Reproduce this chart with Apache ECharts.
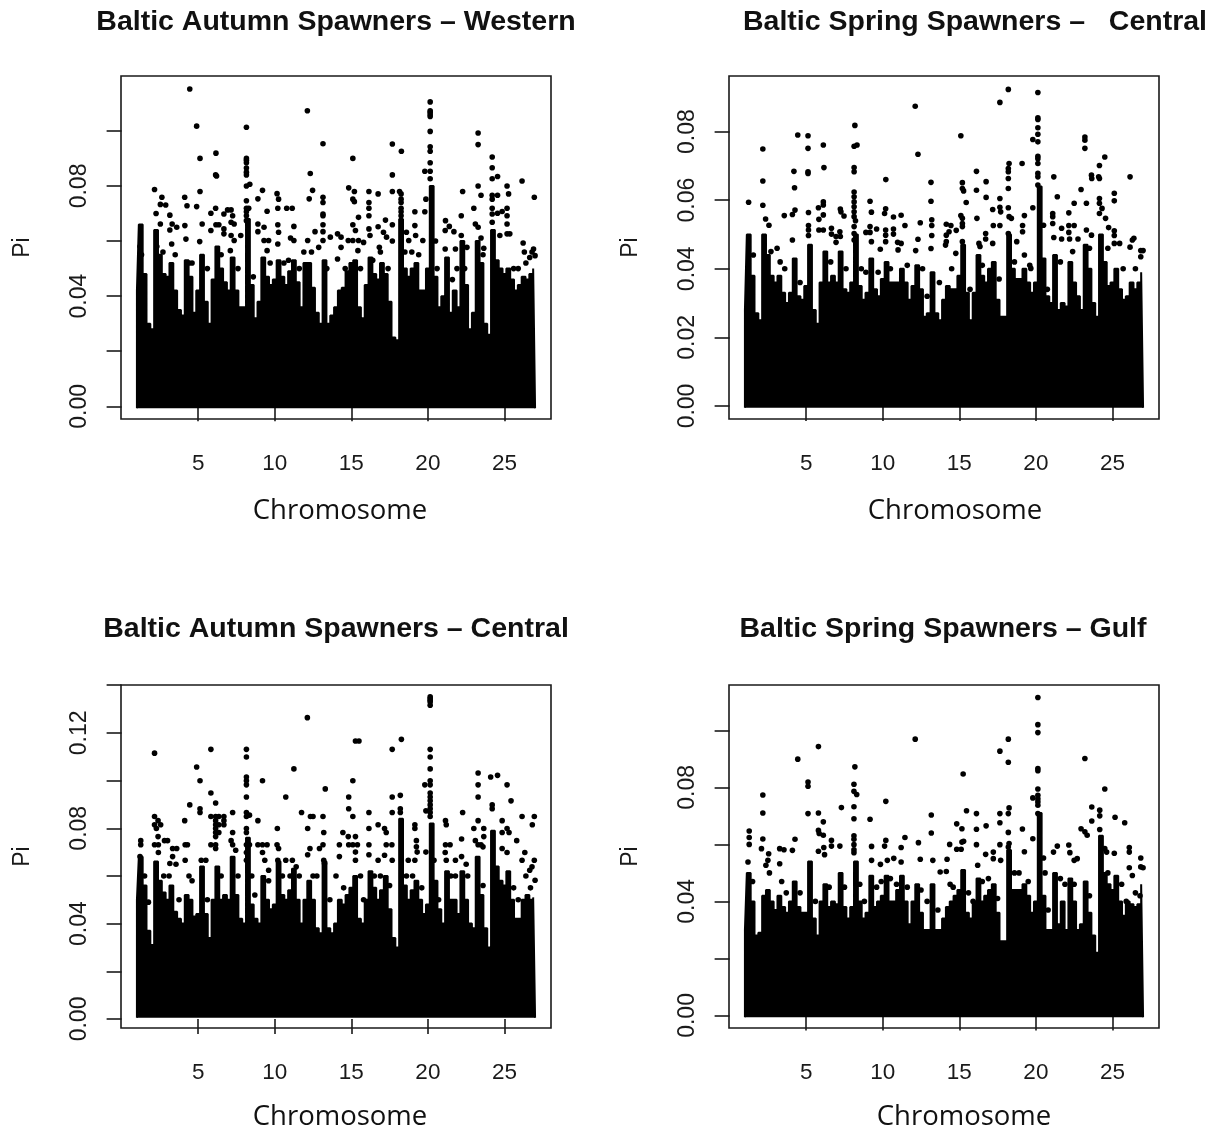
<!DOCTYPE html>
<html><head><meta charset="utf-8">
<style>html,body{margin:0;padding:0;background:#fff}#c{width:1221px;height:1131px}</style>
<script src="https://cdn.jsdelivr.net/npm/echarts@6/dist/echarts.min.js"></script>
</head><body><div id="c"></div>
<script>
const xTicks=[5,10,15,20,25];
const panelTitles=["Baltic Autumn Spawners \u2013 Western","Baltic Spring Spawners \u2013\u00a0\u00a0 Central","Baltic Autumn Spawners \u2013 Central","Baltic Spring Spawners \u2013 Gulf"];
const yTicksA=[0,.02,.04,.06,.08,.10];
const yLabelsA=[0,.04,.08];
const yTicksB=[0,.02,.04,.06,.08];
const yLabelsB=[0,.02,.04,.06,.08];
const yTicksC=[0,.02,.04,.06,.08,.10,.12,.14];
const yLabelsC=[0,.04,.08,.12];
const yTicksD=[0,.02,.04,.06,.08,.10];
const yLabelsD=[0,.04,.08];

// chromosome positions at which the top of the solid mass of points was read
const massX=[1,1.25,1.5,1.75,2,2.25,2.5,2.75,3,3.25,3.5,3.75,4,4.25,4.5,4.75,5,5.25,5.5,5.75,6,6.25,6.5,6.75,7,7.25,7.5,7.75,8,8.25,8.5,8.75,9,9.25,9.5,9.75,10,10.25,10.5,10.75,11,11.25,11.5,11.75,12,12.25,12.5,12.75,13,13.25,13.5,13.75,14,14.25,14.5,14.75,15,15.25,15.5,15.75,16,16.25,16.5,16.75,17,17.25,17.5,17.75,18,18.25,18.5,18.75,19,19.25,19.5,19.75,20,20.25,20.5,20.75,21,21.25,21.5,21.75,22,22.25,22.5,22.75,23,23.25,23.5,23.75,24,24.25,24.5,24.75,25,25.25,25.5,25.75,26,26.25,26.5,26.75,27];
const massA=[.042,.066,.048,.030,.028,.064,.055,.048,.047,.052,.042,.035,.033,.053,.047,.034,.042,.055,.038,.030,.046,.058,.050,.045,.042,.054,.042,.036,.036,.068,.044,.032,.038,.054,.047,.044,.046,.053,.047,.044,.049,.053,.045,.036,.052,.052,.043,.034,.030,.053,.030,.033,.036,.042,.043,.049,.052,.053,.036,.032,.044,.054,.048,.046,.052,.048,.038,.025,.024,.068,.050,.047,.050,.052,.042,.042,.050,.080,.047,.036,.040,.054,.034,.042,.036,.060,.044,.028,.034,.060,.052,.030,.026,.064,.053,.050,.048,.050,.046,.042,.044,.047,.046,.048,.050];
const massB=[.028,.050,.038,.027,.025,.050,.044,.038,.036,.038,.033,.030,.033,.043,.032,.031,.035,.047,.028,.024,.036,.045,.036,.038,.036,.045,.034,.033,.036,.050,.035,.031,.033,.043,.034,.032,.037,.042,.036,.036,.036,.040,.036,.031,.035,.041,.034,.026,.027,.039,.027,.025,.031,.035,.034,.034,.038,.047,.033,.025,.033,.044,.038,.036,.040,.042,.031,.026,.026,.050,.040,.037,.037,.040,.036,.033,.036,.064,.043,.032,.030,.044,.028,.030,.029,.042,.036,.032,.028,.047,.040,.030,.026,.050,.042,.035,.036,.040,.034,.031,.032,.036,.034,.036,.039];
const massC=[.050,.068,.056,.037,.031,.066,.058,.053,.050,.056,.045,.042,.040,.052,.050,.043,.044,.064,.044,.034,.050,.064,.050,.052,.050,.068,.052,.042,.040,.076,.048,.042,.040,.060,.050,.046,.048,.066,.052,.050,.054,.063,.050,.040,.050,.058,.050,.038,.036,.066,.038,.036,.040,.050,.048,.052,.055,.060,.042,.040,.050,.062,.055,.050,.054,.060,.046,.034,.030,.084,.056,.050,.054,.058,.050,.044,.048,.082,.058,.046,.040,.062,.050,.050,.044,.062,.050,.040,.038,.068,.052,.038,.030,.079,.064,.058,.056,.062,.050,.042,.042,.050,.052,.050,.051];
const massD=[.030,.050,.040,.028,.029,.042,.044,.040,.037,.042,.038,.036,.040,.047,.038,.036,.036,.054,.034,.028,.040,.046,.038,.040,.039,.050,.038,.034,.038,.054,.040,.034,.036,.049,.038,.040,.042,.049,.040,.040,.044,.049,.040,.032,.040,.046,.036,.030,.030,.046,.030,.030,.034,.038,.040,.042,.044,.051,.036,.034,.040,.048,.040,.042,.044,.046,.036,.026,.026,.058,.044,.044,.044,.046,.042,.036,.040,.071,.042,.030,.030,.050,.032,.040,.030,.048,.040,.030,.032,.047,.036,.028,.022,.063,.050,.046,.044,.049,.040,.035,.040,.039,.038,.039,.046];

// individually visible points above the mass
const dotsA=[[4.45,.1152],[4.9,.1017],[5.12,.09],[5.12,.078],[4.9,.0725],[4.27,.0728],[4.12,.0759],[4.13,.0656],[4.2,.0607],[2.15,.0787],[2.63,.0759],[2.53,.0733],[2.88,.0731],[2.25,.07],[3.15,.0694],[2.53,.0662],[3.3,.0662],[3.6,.065],[3.15,.064],[3.27,.0589],[5.26,.0662],[5.1,.0598],[6.16,.0919],[6.14,.084],[6.2,.0836],[6.14,.0719],[5.83,.0701],[6.16,.0659],[6.35,.0659],[5.83,.0638],[6.68,.0698],[6.92,.0713],[7.15,.0713],[7.25,.0692],[7.15,.0668],[7.35,.0662],[6.68,.0644],[6.68,.0626],[7.15,.062],[7.78,.062],[7.35,.0602],[7.1,.0565],[8.15,.1013],[8.15,.09],[8.15,.0893],[8.15,.0884],[8.15,.0865],[8.15,.085],[8.15,.084],[8.15,.08],[8.15,.0746],[8.15,.0719],[8.15,.0706],[8.15,.0692],[8.15,.0674],[8.37,.0806],[8.3,.0719],[9.2,.0784],[8.9,.0753],[9.5,.0708],[8.9,.0662],[9.3,.065],[8.9,.0634],[9.3,.0602],[9.6,.0602],[9.5,.0565],[10.15,.0772],[10.25,.0752],[10.2,.0719],[10.78,.0719],[11.14,.0719],[10.2,.0659],[10.25,.0632],[10.2,.0589],[11.25,.0653],[11.03,.0611],[11.25,.0602],[12.13,.1073],[12.32,.0845],[12.47,.0784],[12.25,.0753],[12.15,.0602],[12.63,.0634],[13.15,.0953],[13.15,.0759],[13.15,.074],[13.15,.0698],[13.15,.0692],[13.15,.0659],[13.15,.0634],[13.15,.0602],[12.87,.0577],[13.63,.0614],[14.1,.0626],[14.33,.0614],[14.33,.0577],[14.1,.0535],[15.1,.09],[14.83,.0793],[15.2,.078],[15.1,.0752],[15.2,.0743],[15.47,.0686],[15.1,.0659],[15.27,.0638],[14.8,.0602],[15.1,.0602],[15.47,.0602],[15.8,.0595],[15.43,.0565],[16.15,.078],[16.15,.074],[16.15,.0719],[16.15,.0692],[16.15,.0644],[16.22,.062],[16.75,.0771],[17.23,.0676],[16.75,.0652],[17.1,.0632],[17.3,.0614],[16.83,.0577],[17.68,.0952],[17.68,.084],[17.68,.078],[17.68,.0659],[17.68,.06],[18.27,.0926],[18.15,.078],[18.25,.0771],[18.25,.0752],[18.25,.074],[18.25,.0719],[18.25,.0706],[18.25,.0692],[18.6,.0632],[18.75,.0602],[19.2,.062],[19.15,.0706],[19.15,.0656],[19.8,.0706],[19.87,.0752],[19.8,.0853],[19.67,.0602],[20.15,.1105],[20.15,.1073],[20.15,.1067],[20.15,.1059],[20.15,.1052],[20.15,.0998],[20.15,.0942],[20.15,.0926],[20.15,.0884],[20.15,.0853],[20.15,.0826],[20.5,.06],[21.15,.0674],[21.4,.0653],[21.7,.0634],[21.13,.0638],[21.13,.0571],[21.8,.0571],[22.18,.0692],[22.27,.078],[22.18,.062],[22.55,.0577],[23,.0719],[23.28,.0992],[23.28,.095],[23.28,.08],[23.47,.0766],[23.1,.0662],[23.28,.065],[23.47,.0611],[23.65,.0574],[24.2,.0905],[24.2,.0866],[24.2,.0826],[24.55,.0834],[24.2,.0766],[24.55,.0766],[24.2,.0752],[24.2,.0719],[24.2,.0698],[24.55,.0701],[24.85,.0707],[24.2,.0668],[24.7,.062],[25.17,.08],[25.27,.0771],[25.17,.0719],[25.17,.0692],[25.17,.0662],[25.17,.0626],[25.35,.0626],[26.15,.0818],[26.22,.0593],[26.95,.0759],[26.9,.0571],[26.3,.056],[27,.0547],[26.65,.054],[1.2,.058],[1.3,.055],[2.3,.058],[2.7,.056],[3.5,.055],[4.4,.052],[4.6,.052],[5.6,.05],[6.5,.055],[7.6,.05],[8.6,.047],[9.7,.052],[10.6,.052],[10.9,.053],[11.6,.05],[11.9,.056],[12.4,.056],[13.4,.05],[14.6,.05],[15.6,.05],[16.4,.053],[16.9,.056],[17.4,.05],[18.5,.056],[18.95,.056],[19.4,.055],[20.6,.05],[21.6,.046],[21.9,.05],[22.4,.05],[23.6,.055],[25.6,.05],[25.9,.05],[26.4,.052],[26.8,.056]];
const dotsB=[[18.2,.0923],[17.65,.0885],[20.13,.0914],[12.12,.0874],[8.18,.0818],[4.45,.079],[5.12,.0788],[5.12,.0751],[6.12,.0761],[2.17,.0749],[2.17,.0656],[2.17,.0585],[2.35,.0545],[2.57,.0527],[1.24,.0594],[4.2,.0684],[4.24,.0636],[4.27,.0571],[4.1,.0558],[3.57,.0555],[4.1,.0484],[5.12,.0683],[5.12,.0678],[5.15,.0564],[5.15,.0526],[5.15,.0513],[5.15,.0497],[6.16,.0695],[6.12,.0595],[6.12,.0586],[5.8,.0578],[5.83,.0544],[6.12,.0557],[5.83,.0513],[6.12,.0513],[6.65,.0518],[6.65,.0501],[7.23,.0574],[7.27,.0566],[7.47,.0554],[7.2,.0508],[6.95,.0494],[7.23,.0494],[6.95,.0477],[8.13,.0757],[8.32,.0761],[8.13,.0695],[8.13,.0683],[8.13,.0624],[8.13,.061],[8.13,.0595],[8.13,.0581],[8.13,.0566],[8.13,.0552],[8.22,.054],[8.13,.0523],[8.13,.0503],[8.13,.0484],[9.17,.0597],[9.26,.0565],[9.17,.0523],[8.9,.0506],[9.17,.0506],[9.6,.0516],[9.26,.0479],[10.2,.066],[10.19,.0575],[10.12,.0561],[10.19,.0513],[10.19,.0498],[10.19,.0479],[9.84,.0457],[10.7,.0551],[11.2,.0556],[10.7,.0516],[10.7,.0501],[11.45,.0526],[10.97,.0477],[11.2,.0474],[11,.0455],[12.3,.0734],[12.45,.0534],[12.3,.0486],[12.15,.0453],[13.15,.0652],[13.15,.0597],[13.2,.0543],[13.2,.0526],[13.2,.0497],[13.15,.0459],[14.15,.053],[14.45,.0526],[14.33,.0508],[14.15,.0498],[14.8,.0512],[14.15,.0479],[14.1,.0469],[14.77,.0445],[15.1,.0788],[15.2,.0651],[15.2,.0634],[15.28,.0627],[15.45,.0593],[15.1,.0555],[15.2,.0547],[15.2,.0532],[15.2,.0523],[15.2,.0479],[16.12,.0684],[16.12,.0629],[16.15,.0547],[16.28,.0474],[16.75,.0654],[16.75,.0608],[16.72,.0503],[16.72,.0487],[16.35,.0465],[17.18,.0573],[17.22,.0526],[17.18,.0474],[17.65,.0605],[17.65,.0579],[17.7,.0566],[17.65,.0526],[18.25,.0707],[18.2,.0692],[18.2,.0683],[18.2,.0663],[18.2,.0634],[18.2,.0578],[18.25,.0552],[18.4,.0547],[18.2,.0503],[18.75,.0479],[19.1,.0707],[19.25,.0555],[19.13,.0526],[19.13,.0508],[19.25,.044],[19.8,.0777],[19.8,.0578],[19.67,.0401],[20.13,.084],[20.13,.0835],[20.13,.0811],[20.13,.0792],[20.13,.077],[20.13,.0728],[20.13,.0721],[20.13,.0707],[20.13,.0678],[20.13,.0668],[20.13,.0644],[20.5,.0527],[21.17,.0668],[21.4,.061],[21.1,.0561],[21.1,.0552],[21.1,.0532],[21.17,.0491],[21.68,.0518],[21.68,.0487],[22.15,.0563],[22.5,.0591],[22.15,.0526],[22.5,.0526],[22.15,.0506],[22.2,.0487],[22.75,.0487],[22.95,.0631],[23.3,.0591],[23.2,.0784],[23.2,.0775],[23.2,.0751],[23.3,.0513],[23.63,.0498],[23.63,.0673],[23.65,.0663],[24.15,.0701],[24.1,.0668],[24.15,.0663],[24.15,.0605],[24.15,.0591],[24.15,.0561],[24.32,.0576],[24.5,.0726],[24.55,.0547],[24.75,.052],[25.12,.0511],[25.12,.062],[25.12,.0598],[25.12,.0497],[25.12,.0474],[25.47,.0474],[26.15,.0668],[26.4,.0489],[26.15,.0463],[26.3,.0484],[26.85,.0453],[27,.0453],[26.85,.0435],[1.55,.044],[2.7,.045],[3.1,.046],[3.3,.042],[3.6,.04],[4.6,.036],[6.6,.042],[7.6,.04],[8.6,.04],[8.9,.039],[9.7,.039],[10.5,.04],[11.6,.041],[12.6,.04],[12.9,.032],[13.7,.036],[14.5,.04],[15.7,.034],[16.5,.041],[17.6,.037],[18.6,.042],[19.6,.041],[20.75,.034],[21.6,.042],[22.4,.045],[23.5,.046],[24.7,.046],[25.7,.04],[26.5,.04]];
const dotsC=[[2.15,.1115],[2.15,.0849],[2.38,.0832],[2.55,.0815],[2.15,.0815],[2.27,.0799],[2.38,.0765],[2.15,.0731],[2.4,.0731],[2.8,.0748],[3,.0748],[3.33,.0715],[3.6,.0715],[2.4,.0698],[3.33,.0681],[3.15,.0652],[3.55,.0649],[1.25,.0748],[1.25,.0731],[1.2,.0681],[4.12,.0832],[4.45,.0898],[4.15,.0731],[4.3,.0731],[4.15,.0666],[4.9,.1057],[5.12,.0999],[5.12,.0882],[5.12,.0866],[5.2,.0666],[5.5,.0666],[5.83,.1131],[5.83,.0948],[6.14,.0906],[5.83,.0849],[6.14,.0849],[6.14,.0832],[6.14,.0815],[6.14,.0799],[6.14,.0782],[6.14,.0765],[6.14,.0731],[6.35,.0849],[6.35,.0815],[6.35,.0782],[6.68,.0849],[6.68,.0832],[6.68,.0815],[5.83,.0731],[6.14,.0715],[7.25,.0866],[7.25,.0782],[7.15,.0748],[7.25,.0731],[7.45,.0708],[8.15,.1131],[8.15,.1099],[8.15,.1015],[8.15,.0999],[8.15,.0982],[8.15,.0931],[8.15,.0866],[8.15,.0849],[8.35,.0855],[8.15,.0799],[8.15,.0782],[8.15,.0731],[8.35,.0731],[8.15,.0698],[8.15,.0666],[8.9,.0832],[9.2,.0999],[8.9,.0731],[9.2,.0731],[9.5,.0731],[9.2,.0698],[9.35,.0666],[9.6,.0624],[10.17,.0799],[10.15,.0731],[10.25,.0715],[10.2,.0666],[10.72,.0931],[11.25,.1049],[10.72,.0666],[11.15,.0666],[11.4,.0638],[11.75,.0866],[12.13,.1264],[12.15,.0799],[12.3,.0715],[12.15,.0689],[12.33,.0849],[12.5,.0849],[12.92,.0715],[13.15,.0731],[13.3,.0965],[13.15,.0849],[13.2,.0782],[13.2,.0666],[13.25,.0652],[15.1,.0999],[14.83,.0931],[14.83,.0882],[15.1,.0849],[14.45,.0782],[14.8,.0765],[15.27,.0765],[14.83,.0731],[15.1,.0731],[15.4,.0731],[14.22,.0731],[15.27,.1166],[15.5,.1166],[14.22,.0681],[15.27,.07],[15.27,.0666],[16.15,.0866],[16.15,.0799],[16.15,.0731],[16.15,.0689],[16.75,.0815],[17.17,.0799],[17.28,.0782],[17.28,.0731],[17.65,.0731],[16.75,.0666],[17.17,.0687],[17.67,.1131],[17.67,.0931],[17.67,.0866],[17.67,.0666],[18.27,.1173],[18.2,.0938],[18.2,.0882],[18.2,.0866],[19.15,.0815],[19.15,.0799],[19.25,.0748],[19.25,.0722],[19.3,.07],[18.72,.0666],[19.15,.0666],[19.8,.0982],[19.87,.0873],[19.87,.07],[20.15,.1351],[20.15,.1344],[20.15,.1337],[20.15,.133],[20.15,.1316],[20.15,.1131],[20.15,.1099],[20.15,.1049],[20.15,.0999],[20.15,.0982],[20.15,.0948],[20.15,.0931],[20.15,.0915],[20.15,.0898],[20.15,.0882],[20.15,.0866],[20.15,.0849],[20.4,.0666],[21.15,.0832],[21.2,.0815],[21.15,.0731],[21.45,.0731],[21.13,.0698],[21.8,.0666],[21.2,.0666],[22.2,.0755],[22.27,.0866],[22.2,.0681],[22.5,.0649],[23,.0799],[23.28,.1032],[23.28,.0982],[23.28,.0931],[23.28,.0832],[23.1,.0748],[23.28,.0731],[23.47,.0731],[23.65,.0799],[23.65,.0765],[23.6,.0722],[24.1,.1015],[24.55,.1022],[24.2,.0898],[24.2,.0882],[24.85,.0832],[25.17,.0982],[25.43,.0915],[25.17,.0799],[25.3,.0782],[24.85,.0782],[25.8,.0748],[24.85,.0715],[25.17,.0698],[26.15,.0849],[26.95,.0849],[26.82,.0815],[26.33,.0698],[26.15,.0666],[26.95,.0666],[26.8,.0638],[26.65,.0624],[27,.0582],[1.5,.06],[1.75,.049],[2.75,.06],[3.1,.06],[3.75,.05],[4.4,.06],[4.6,.058],[5.6,.05],[6.5,.06],[7.6,.06],[8.5,.06],[8.7,.052],[9.6,.058],[10.5,.06],[11,.06],[11.6,.06],[12.5,.06],[12.75,.06],[13.6,.05],[14,.06],[14.5,.055],[15.6,.06],[15.8,.05],[16.5,.06],[16.9,.06],[17.5,.056],[18.6,.06],[19,.06],[19.6,.055],[20.7,.05],[21.5,.06],[21.8,.06],[22.6,.06],[23.6,.056],[25.6,.055],[25.9,.05],[26.4,.06],[26.7,.055]];
const dotsD=[[20.13,.1115],[20.13,.102],[20.13,.0992],[20.13,.0866],[20.13,.0858],[20.13,.0794],[20.13,.0772],[20.13,.076],[20.13,.0749],[20.13,.0737],[19.8,.0763],[19.8,.062],[20.13,.0708],[12.12,.0969],[18.2,.0969],[17.65,.0927],[18.2,.0888],[5.8,.0943],[4.45,.0899],[23.2,.0901],[8.18,.0872],[15.25,.0847],[5.12,.0819],[5.12,.0804],[8.12,.0811],[8.12,.0786],[8.3,.0775],[2.17,.0773],[2.17,.071],[2.17,.0619],[2.08,.0585],[24.5,.0794],[10.2,.0751],[8.12,.0732],[7.3,.0729],[15.47,.0718],[16.12,.0708],[17.65,.0708],[18.2,.0708],[18.25,.0728],[5.12,.0708],[5.8,.071],[6.12,.0679],[13.17,.0703],[23.65,.0731],[24.17,.072],[24.17,.07],[23.65,.0682],[24.17,.0652],[25.17,.0695],[25.8,.0676],[9.17,.0688],[8.12,.069],[14.83,.0672],[15.17,.0655],[16.12,.0653],[16.75,.0665],[17.65,.0676],[18.2,.0642],[19.12,.0654],[22.95,.0655],[23.2,.0644],[23.35,.0632],[13.17,.064],[5.8,.0649],[5.85,.0638],[6.12,.0632],[4.27,.0618],[1.28,.0647],[1.28,.0624],[1.28,.06],[1.2,.0538],[6.15,.0589],[5.8,.0576],[6.2,.0564],[6.65,.0614],[6.65,.0594],[7.2,.0594],[8.12,.063],[8.12,.0618],[8.12,.0599],[8.12,.0581],[8.12,.0571],[9.27,.0593],[10.2,.0614],[10.12,.0594],[11.2,.0589],[11.45,.0624],[12.33,.0606],[14.37,.06],[14.83,.0583],[15.12,.0583],[15.17,.0608],[15.28,.0611],[16.12,.0599],[17.65,.0599],[18.25,.0603],[18.2,.0591],[19.25,.0574],[20.5,.0552],[21.4,.0594],[21.15,.0573],[22.15,.0598],[22.22,.0571],[22.7,.055],[22.5,.0544],[24.5,.0585],[24.62,.0573],[25.12,.0569],[26.1,.0589],[26.1,.0573],[26.85,.0552],[26.85,.0521],[27,.0518],[26.1,.0518],[26.3,.0491],[3.27,.0585],[3.55,.0581],[4.1,.0579],[3.27,.0532],[2.55,.0567],[2.5,.0544],[2.37,.0527],[9.27,.0544],[9.85,.053],[10.3,.0544],[10.72,.0551],[11.2,.0538],[12.45,.0548],[13.27,.0544],[14.2,.0548],[13.75,.0503],[14.15,.0505],[16.72,.0565],[17.22,.0573],[17.22,.055],[17.7,.0544],[16.2,.0527],[1.5,.047],[2.6,.05],[3.4,.047],[3.7,.043],[4.6,.043],[5.6,.04],[6.5,.045],[7.5,.045],[8.5,.046],[8.8,.04],[9.6,.045],[9.9,.047],[10.5,.048],[10.9,.046],[11.6,.045],[12.5,.044],[12.9,.04],[13.6,.037],[14.4,.046],[14.6,.045],[15.6,.043],[15.9,.04],[16.5,.047],[16.9,.048],[17.5,.041],[18.6,.05],[18.9,.05],[19.5,.047],[20.6,.05],[20.8,.037],[21.6,.048],[21.9,.046],[22.5,.046],[23.5,.042],[24.7,.05],[25.6,.046],[25.9,.04],[26.5,.043],[26.8,.042]];

const panels=[
 {t:0,box:[121,76,430,343],y:[-0.0046,0.1199],ticks:yTicksA,labels:yLabelsA,mass:massA,dots:dotsA,floor:-0.0007,name:[335,510],title:[331,19]},
 {t:1,box:[729,76,430,343],y:[-0.0038,0.0962],ticks:yTicksB,labels:yLabelsB,mass:massB,dots:dotsB,floor:-0.0005,name:[950,510],title:[970,19]},
 {t:2,box:[121,685,430,343],y:[-0.0038,0.1401],ticks:yTicksC,labels:yLabelsC,mass:massC,dots:dotsC,floor:0.0005,name:[335,1116],title:[331,626]},
 {t:3,box:[729,685,430,343],y:[-0.0044,0.1159],ticks:yTicksD,labels:yLabelsD,mass:massD,dots:dotsD,floor:-0.0006,name:[959,1116],title:[938,626]}
];
const ink='#1a1a1a';
const sans='"Liberation Sans",Arial,sans-serif';
const opt={backgroundColor:'#fff',animation:false,grid:[],xAxis:[],yAxis:[],series:[],title:[]};
panels.forEach((p,i)=>{
 opt.grid.push({left:p.box[0],top:p.box[1],width:p.box[2],height:p.box[3],show:true,borderColor:ink,borderWidth:1.6,backgroundColor:'#fff',containLabel:false,outerBoundsMode:'none'});
 opt.xAxis.push({gridIndex:i,type:'value',min:-0.04,max:28.04,splitLine:{show:false},
  axisLine:{show:false},
  axisTick:{show:true,length:15,inside:false,lineStyle:{color:ink,width:1.6},customValues:xTicks},
  axisLabel:{show:true,margin:33,customValues:xTicks,formatter:v=>String(v),fontFamily:sans,fontSize:22.5,color:'#1a1a1a'}});
 opt.yAxis.push({gridIndex:i,type:'value',min:p.y[0],max:p.y[1],splitLine:{show:false},
  axisLine:{show:false},
  name:'Pi',nameLocation:'middle',nameRotate:90,nameGap:87,nameTextStyle:{fontFamily:sans,fontSize:23,color:'#1a1a1a'},
  axisTick:{show:true,length:15,inside:false,lineStyle:{color:ink,width:1.6},customValues:p.ticks},
  axisLabel:{show:true,rotate:90,margin:41,customValues:p.labels,formatter:v=>v.toFixed(2),hideOverlap:false,verticalAlign:'middle',align:'center',fontFamily:sans,fontSize:23,color:'#1a1a1a'}});
 const top=massX.map((x,k)=>[x,p.mass[k]]);
 opt.series.push({type:'line',xAxisIndex:i,yAxisIndex:i,data:[[massX[0],p.floor],...top,[massX[massX.length-1],p.floor]],step:'middle',symbol:'none',silent:true,
  lineStyle:{color:'#000',width:2},areaStyle:{color:'#000',opacity:1,origin:p.floor},z:2});
 opt.series.push({type:'scatter',xAxisIndex:i,yAxisIndex:i,data:p.dots,symbolSize:5.6,itemStyle:{color:'#000',opacity:1},silent:true,z:3});
 opt.title.push({text:panelTitles[p.t],left:p.title[0],top:p.title[1]-16,textAlign:'center',textStyle:{fontFamily:sans,fontWeight:'bold',fontSize:28.5,color:'#111'}});
 opt.title.push({text:'Chromosome',left:p.name[0],top:p.name[1]-18,textAlign:'center',textStyle:{fontFamily:'"Open Sans",sans-serif',fontWeight:'normal',fontSize:27.5,color:'#111'}});
});
echarts.init(document.getElementById('c'),null,{renderer:'canvas'}).setOption(opt);
</script></body></html>
